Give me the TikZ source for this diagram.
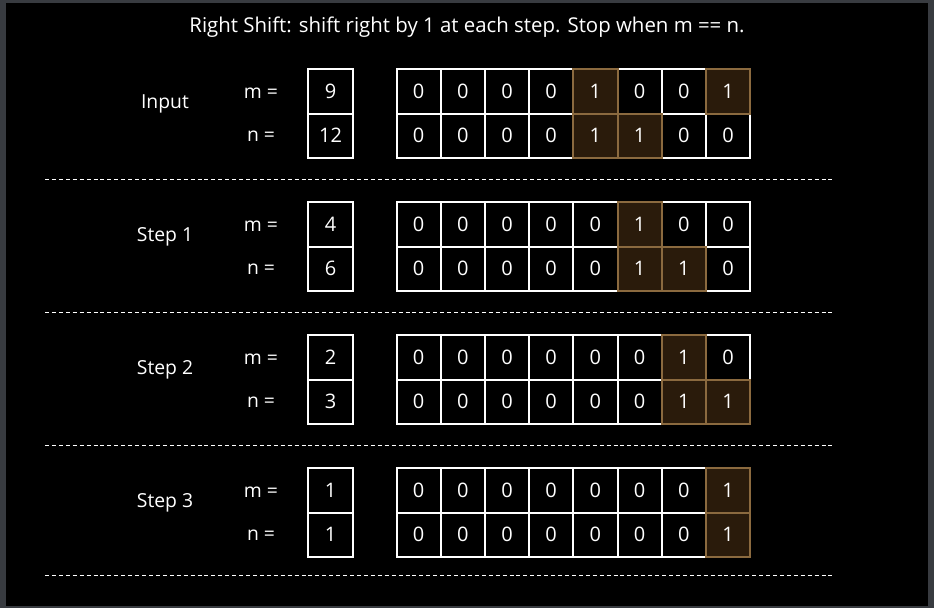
\documentclass[tikz,border=0pt]{standalone}
\usepackage{fontspec}
\setmainfont{Open Sans}
\definecolor{framegray}{HTML}{383B40}
\definecolor{hifill}{HTML}{2A1B0B}
\definecolor{hiline}{HTML}{8B6A3F}
\newcommand\shiftgroup[7]{%
  \node[lbl] (#1-lab) at (165,#3+36) {#2};
  \node[lbl] (#1-ml) at (261,#3+25) {m =};
  \node[lbl] (#1-nl) at (261,#3+68) {n =};
  \node[valcell] (#1-mv) at (307,#3) {#4};
  \node[valcell] (#1-nv) at (307,#3+44.5) {#5};
  \foreach \b [count=\i from 0] in {#6} {\ifnum\b=0 \node[cell] (#1-m\i) at (395.5+44.2*\i,#3) {0};\fi}
  \foreach \b [count=\i from 0] in {#7} {\ifnum\b=0 \node[cell] (#1-n\i) at (395.5+44.2*\i,#3+44.5) {0};\fi}
  \foreach \b [count=\i from 0] in {#6} {\ifnum\b=1 \node[hicell] (#1-m\i) at (395.5+44.2*\i,#3) {1};\fi}
  \foreach \b [count=\i from 0] in {#7} {\ifnum\b=1 \node[hicell] (#1-n\i) at (395.5+44.2*\i,#3+44.5) {1};\fi}
}
\begin{document}
\begin{tikzpicture}[x=0.75pt,y=-0.75pt,
  cell/.style={draw=white,line width=1.5pt,minimum width=33.15pt,minimum height=33.375pt,
    inner sep=0pt,anchor=north west,text=white,font=\fontsize{15}{15}\selectfont},
  valcell/.style={cell,minimum width=33.75pt},
  hicell/.style={cell,draw=hiline,fill=hifill},
  lbl/.style={text=white,inner sep=0pt,font=\fontsize{14.5}{15}\selectfont},
  sep/.style={white,line width=0.8pt,dash pattern=on 3pt off 2.2pt}]
\useasboundingbox (0,0) rectangle (934,608);
\fill[framegray] (0,0) rectangle (934,608);
\fill[black] (6,3) rectangle (928,606);
\node[lbl,font=\fontsize{15.3}{16}\selectfont] (title) at (467,27) {Right Shift: shift right by 1 at each step. Stop when m == n.};
\shiftgroup{g0}{Input}{68}{9}{12}{0,0,0,0,1,0,0,1}{0,0,0,0,1,1,0,0}
\shiftgroup{g1}{Step 1}{201}{4}{6}{0,0,0,0,0,1,0,0}{0,0,0,0,0,1,1,0}
\shiftgroup{g2}{Step 2}{334}{2}{3}{0,0,0,0,0,0,1,0}{0,0,0,0,0,0,1,1}
\shiftgroup{g3}{Step 3}{467}{1}{1}{0,0,0,0,0,0,0,1}{0,0,0,0,0,0,0,1}
\foreach \y [count=\k] in {179.5,312.5,445.5,575.5} {
  \coordinate (s\k a) at (45,\y);
  \coordinate (s\k b) at (834,\y);
  \draw[sep] (s\k a) -- (s\k b);
}
\end{tikzpicture}
\end{document}
